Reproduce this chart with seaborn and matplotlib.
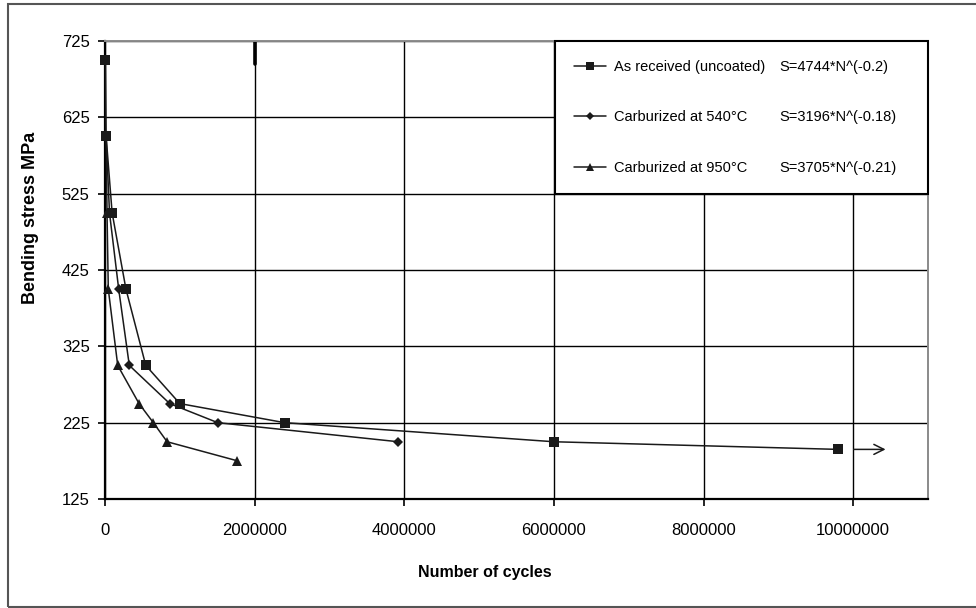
import numpy as np
import pandas as pd
import matplotlib
matplotlib.use("Agg")
import matplotlib.pyplot as plt
from matplotlib.lines import Line2D
from matplotlib.patches import Rectangle
import seaborn as sns

# S-N data (cycles, bending stress MPa)
N_AS_RECEIVED = [5000, 15000, 95000, 280000, 545000, 1000000, 2400000, 6000000, 9800000]
S_AS_RECEIVED = [700, 600, 500, 400, 300, 250, 225, 200, 190]

N_540 = [15000, 60000, 183000, 325000, 865000, 1507000, 3920000]
S_540 = [600, 500, 400, 300, 250, 225, 200]

N_950 = [15000, 27000, 44000, 170000, 455000, 646000, 830000, 1770000]
S_950 = [600, 500, 400, 300, 250, 225, 200, 175]

NAMES = ["As received (uncoated)", "Carburized at 540°C", "Carburized at 950°C"]
FORMULAS = ["S=4744*N^(-0.2)", "S=3196*N^(-0.18)", "S=3705*N^(-0.21)"]

X_TICKS = [0, 2000000, 4000000, 6000000, 8000000, 10000000]
Y_TICKS = [125, 225, 325, 425, 525, 625, 725]

sns.set_theme(style="white")
plt.rcParams["font.family"] = ["Liberation Sans", "DejaVu Sans"]

df = pd.concat([
    pd.DataFrame({"N": N_AS_RECEIVED, "S": S_AS_RECEIVED, "series": NAMES[0]}),
    pd.DataFrame({"N": N_540, "S": S_540, "series": NAMES[1]}),
    pd.DataFrame({"N": N_950, "S": S_950, "series": NAMES[2]}),
])

fig = plt.figure(figsize=(9.76, 6.08), dpi=100)
ax = fig.add_axes([105 / 976, 1 - 499 / 608, 823 / 976, 458 / 608])

styles = {
    NAMES[0]: dict(marker="s", markersize=7),
    NAMES[1]: dict(marker="D", markersize=5),
    NAMES[2]: dict(marker="^", markersize=7.5),
}
for name in NAMES:
    sns.lineplot(data=df[df["series"] == name], x="N", y="S", ax=ax,
                 color="#1a1a1a", linewidth=1.1, estimator=None,
                 markeredgewidth=0, legend=False, zorder=4, clip_on=False,
                 **styles[name])

# run-out arrow after the last uncoated point
ax.annotate("", xy=(10.47e6, S_AS_RECEIVED[-1]), xytext=(9.97e6, S_AS_RECEIVED[-1]),
            arrowprops=dict(arrowstyle="->", color="#1a1a1a", lw=1.1,
                            mutation_scale=18))

ax.set_xlim(0, 11.0e6)
ax.set_ylim(125, 725)
ax.set_xticks(X_TICKS)
ax.set_yticks(Y_TICKS)
ax.set_xticklabels([str(t) for t in X_TICKS])
ax.grid(True, color="black", linewidth=1.0)
ax.axvline(2000000, ymin=0.95, ymax=1.0, color="black", linewidth=2.6)

ax.tick_params(axis="both", which="major", labelsize=12, length=5, width=1.2,
               color="black", direction="out", left=True, bottom=True)
ax.tick_params(axis="x", pad=12)
ax.tick_params(axis="y", pad=6)
for t in ax.get_xticklabels() + ax.get_yticklabels():
    t.set_color("black")

for side in ["left", "bottom"]:
    ax.spines[side].set_color("black")
    ax.spines[side].set_linewidth(1.6)
for side in ["top", "right"]:
    ax.spines[side].set_color("#8a8a8a")
    ax.spines[side].set_linewidth(1.4)

ax.set_xlabel("Number of cycles", fontsize=11.5, fontweight="bold", color="black")
ax.set_ylabel("Bending stress MPa", fontsize=13, fontweight="bold", color="black")
ax.xaxis.set_label_coords(0.462, -0.144)
ax.yaxis.set_label_coords(-0.08, 0.614)

handles = [
    Line2D([], [], color="#1a1a1a", lw=1.1, marker="s", markersize=6, markeredgewidth=0),
    Line2D([], [], color="#1a1a1a", lw=1.1, marker="D", markersize=4.5, markeredgewidth=0),
    Line2D([], [], color="#1a1a1a", lw=1.1, marker="^", markersize=6, markeredgewidth=0),
]
leg = ax.legend(handles, NAMES, loc="upper right", bbox_to_anchor=(0.547, 0.0, 0.453, 1.0),
                mode="expand", borderaxespad=0, fontsize=10.5, frameon=True,
                fancybox=False, edgecolor="black", framealpha=1, borderpad=1.3,
                labelspacing=2.5, handlelength=2.2, handletextpad=0.5)
leg.get_frame().set_linewidth(1.5)
leg.set_zorder(5)
for t in leg.get_texts():
    t.set_color("black")

# formulas in the second column of the legend
fig.canvas.draw()
inv = fig.transFigure.inverted()
for txt, formula in zip(leg.get_texts(), FORMULAS):
    bb = txt.get_window_extent()
    _, yc = inv.transform((0, (bb.y0 + bb.y1) / 2))
    fig.text(779 / 976, yc, formula, fontsize=10.5, va="center", ha="left",
             color="black", zorder=6)

# outer chart frame
fig.add_artist(Rectangle((8 / 976, 1 / 608), 1.0, 603 / 608, transform=fig.transFigure,
                         fill=False, edgecolor="#555555", linewidth=1.5, clip_on=False))

fig.savefig("out.png", dpi=100)
